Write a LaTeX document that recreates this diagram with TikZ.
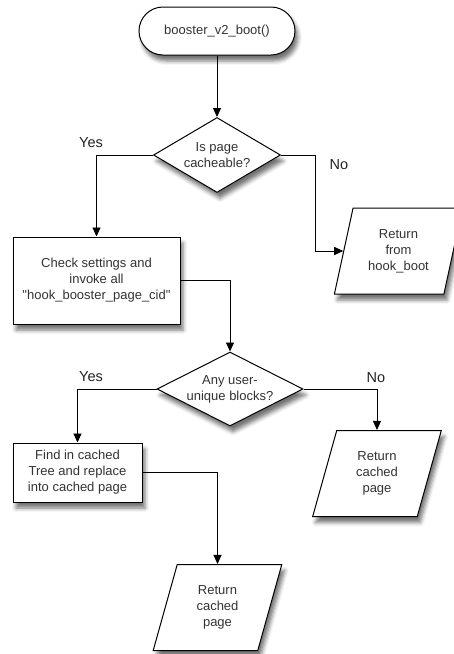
\documentclass[tikz,border=0pt]{standalone}
\usepackage{fontspec}
\setmainfont{Liberation Sans}
\usetikzlibrary{shapes.geometric,arrows.meta,shadows.blur}
\definecolor{textgray}{HTML}{333333}
\definecolor{labelgray}{HTML}{222222}
\begin{document}
\begin{tikzpicture}[x=1pt,y=-1pt,
  base/.style={draw=black, line width=1pt, fill=white, text=textgray,
    font=\fontsize{13}{16}\selectfont, align=center,
    blur shadow={shadow xshift=3pt, shadow yshift=-6pt,
      shadow blur radius=4pt, shadow opacity=55}},
  terminal/.style={base, rectangle, rounded corners=24pt,
    minimum width=156pt, minimum height=48pt},
  decision/.style={base, diamond, aspect=1.9, inner sep=0pt},
  process/.style={base, rectangle},
  io/.style={base, trapezium, trapezium left angle=74,
    trapezium right angle=106, trapezium stretches=true,
    minimum width=129pt, minimum height=86pt, inner sep=0pt},
  flow/.style={draw=black, line width=0.9pt,
    -{Triangle[length=9pt,width=8pt]}},
  answer/.style={text=labelgray, font=\fontsize{14.5}{17}\selectfont}
]
\useasboundingbox (0,0) rectangle (453,654);

% nodes
\node[terminal] (start) at (217,31) {booster\_v2\_boot()};
\node[decision, minimum width=127pt, minimum height=75pt] (d1) at (217,155)
  {Is page\\cacheable?};
\node[process, minimum width=167pt, minimum height=87pt] (b1) at (96.5,280.5)
  {Check settings and\\invoke all\\\textquotedbl hook\_booster\_page\_cid\textquotedbl};
\node[io] (p1) at (398.5,251) {Return\\from\\hook\_boot};
\node[decision, minimum width=146pt, minimum height=74pt] (d2) at (230,389)
  {Any user-\\unique blocks?};
\node[process, minimum width=129pt, minimum height=59pt] (b2) at (77.5,472.5)
  {Find in cached\\Tree and replace\\into cached page};
\node[io] (p2) at (377,473.5) {Return\\cached\\page};
\node[io] (p3) at (217.5,607.5) {Return\\cached\\page};

% connectors
\draw[flow] (start) -- (d1);
\draw[flow] (d1.west) -| (b1.north);
\draw[flow] (d1.east) -- ++(34,0) |- (p1.west);
\draw[flow] (b1.east) -| (d2.north);
\draw[flow] (d2.west) -| (b2.north);
\draw[flow] (d2.east) -| (p2.north);
\draw[flow] (b2.east) -| (p3.north);

% branch labels
\node[answer] (yes1) at (91,143) {Yes};
\node[answer] (no1) at (339,165) {No};
\node[answer] (yes2) at (91,377) {Yes};
\node[answer] (no2) at (376,378) {No};
\end{tikzpicture}
\end{document}
